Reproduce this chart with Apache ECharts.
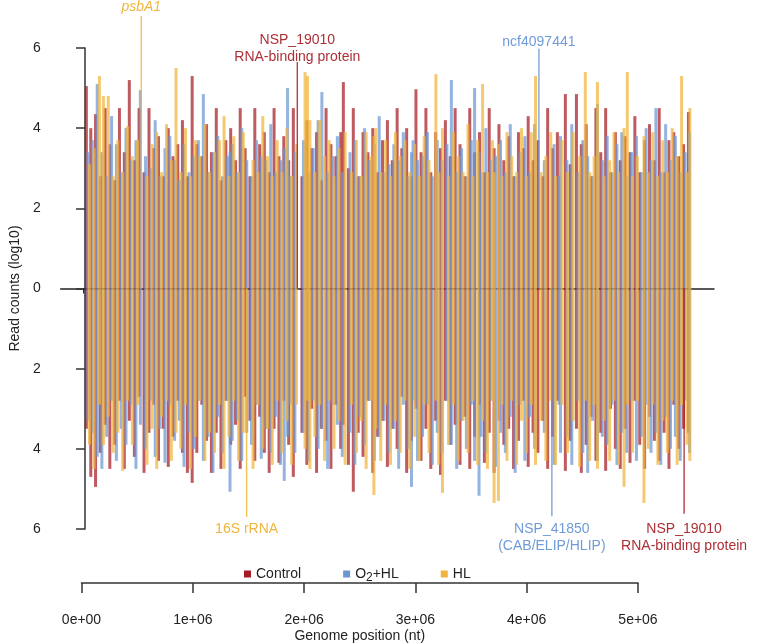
<!DOCTYPE html>
<html>
<head>
<meta charset="utf-8">
<script src="https://cdn.jsdelivr.net/npm/echarts@6/dist/echarts.min.js"></script>
<style>html,body{margin:0;padding:0;background:#fff}#c{width:761px;height:644px}</style>
</head>
<body>
<div id="c"></div>
<script>
// ---- DATA (positions in kb, read counts log10: [position, plus strand, minus strand]) ----
const conditionNames = ['Control', 'O2+HL', 'HL'];

const controlBars = [[12,5.05,3.5],[52,4.0,4.7],[95,4.35,4.95],[138,2.8,4.1],[182,4.5,3.4],[224,3.6,4.5],[268,2.7,3.9],[311,4.5,2.8],[355,3.4,4.5],[400,5.2,3.3],[446,3.2,4.2],[488,4.5,2.7],[533,2.9,4.6],[578,4.5,3.6],[620,3.5,2.9],[664,3.8,4.3],[708,2.8,3.5],[752,4.0,4.45],[795,3.3,3.7],[838,3.6,2.8],[880,4.2,4.1],[925,2.8,4.6],[968,5.3,4.85],[1010,3.6,4.1],[1055,3.3,2.9],[1098,4.1,3.8],[1142,3.4,4.6],[1186,4.5,3.6],[1228,2.7,4.5],[1272,3.7,2.8],[1316,4.0,3.9],[1360,3.2,3.4],[1402,4.5,4.5],[1447,3.5,2.7],[1490,2.8,3.3],[1534,4.5,4.3],[1578,3.6,3.2],[1620,3.9,4.1],[1664,2.9,4.6],[1708,4.5,3.5],[1752,3.3,4.35],[1796,3.8,2.8],[1840,3.2,3.9],[1882,4.5,4.7],[1960,2.8,3.6],[2004,4.2,4.4],[2048,3.5,3.0],[2092,3.9,4.6],[2135,2.7,3.5],[2178,4.5,3.8],[2222,3.6,4.5],[2266,3.3,2.9],[2310,3.9,4.0],[2334,5.15,3.4],[2380,3.0,4.4],[2424,4.5,5.07],[2468,2.8,3.6],[2512,3.9,4.2],[2556,3.4,2.8],[2600,4.0,4.6],[2644,2.9,3.7],[2688,3.7,3.3],[2732,4.2,4.45],[2776,3.2,3.5],[2820,4.5,4.0],[2862,3.5,2.7],[2906,4.0,4.6],[2950,2.8,3.8],[2990,4.97,3.0],[3036,3.4,4.3],[3080,4.5,3.5],[3124,2.9,4.5],[3168,3.9,3.3],[3212,3.5,4.65],[3256,4.2,2.8],[3300,3.3,3.9],[3344,4.5,3.4],[3388,3.6,4.4],[3432,2.8,3.2],[3476,4.5,4.5],[3520,3.4,3.7],[3564,3.9,2.9],[3608,2.9,4.35],[3652,4.5,3.6],[3696,3.5,4.6],[3740,4.1,3.3],[3784,3.2,3.9],[3828,3.8,3.5],[3872,2.8,4.5],[3916,3.9,3.8],[3960,3.5,2.8],[4004,4.3,4.45],[4048,3.2,3.6],[4092,3.7,4.1],[4136,2.8,3.3],[4180,4.5,4.5],[4224,3.5,3.7],[4268,3.9,2.8],[4340,4.85,4.55],[4384,3.1,3.8],[4440,4.85,3.5],[4484,3.6,4.6],[4528,4.1,3.9],[4572,2.8,3.2],[4616,4.5,4.3],[4660,3.4,3.6],[4704,4.5,4.55],[4748,2.9,3.0],[4792,3.9,4.0],[4836,3.2,4.5],[4880,3.8,3.5],[4924,3.4,4.35],[4968,4.3,2.8],[5012,2.9,3.9],[5056,3.7,4.5],[5100,4.1,3.2],[5144,3.2,3.8],[5188,4.5,4.3],[5232,2.9,3.6],[5276,3.7,4.5],[5320,3.9,2.9],[5364,3.3,4.0],[5408,3.6,3.5],[5452,4.4,3.6]];

const o2hlBars = [[26,3.4,3.3],[66,3.7,3.6],[110,5.1,4.2],[152,3.4,4.5],[196,2.8,3.7],[240,4.3,2.8],[283,3.6,4.3],[326,2.9,3.5],[370,4.0,3.9],[414,3.2,2.9],[460,3.7,4.5],[500,4.95,3.4],[547,3.3,4.0],[592,3.0,2.8],[634,4.2,4.2],[678,2.8,3.5],[722,3.5,4.35],[766,3.8,2.9],[809,3.2,3.8],[852,2.7,3.3],[894,3.6,4.45],[939,2.9,3.6],[982,3.3,4.0],[1024,3.7,2.8],[1069,4.85,4.3],[1112,2.9,3.7],[1156,3.4,4.6],[1200,3.8,3.2],[1242,2.8,4.1],[1286,3.3,2.8],[1310,3.4,5.07],[1330,3.6,3.8],[1374,2.9,3.3],[1416,4.0,4.3],[1461,3.2,3.6],[1504,2.8,3.9],[1548,3.7,2.9],[1592,3.3,4.25],[1634,3.2,3.5],[1678,4.1,4.1],[1722,2.9,3.2],[1766,3.2,4.4],[1800,3.5,4.8],[1830,5.0,3.7],[1854,2.8,2.9],[1896,3.4,4.1],[1974,3.7,3.6],[2018,2.9,4.3],[2062,3.5,2.8],[2106,4.2,4.0],[2140,4.9,3.5],[2192,2.9,4.5],[2236,3.3,2.9],[2280,3.8,3.4],[2324,2.9,4.2],[2394,3.4,3.6],[2438,3.7,4.4],[2482,2.8,3.2],[2526,4.0,3.9],[2570,3.2,2.8],[2614,3.6,4.3],[2658,4.3,3.7],[2702,2.9,3.3],[2746,3.1,4.1],[2790,3.6,3.5],[2834,3.2,4.5],[2876,3.9,2.9],[2920,2.8,4.0],[2950,3.4,4.95],[2964,3.7,2.8],[3004,3.2,4.3],[3050,3.3,3.7],[3094,3.9,2.9],[3138,2.8,4.4],[3182,3.7,3.6],[3226,3.2,4.1],[3270,3.6,2.8],[3310,5.2,3.9],[3358,2.9,4.5],[3402,3.5,3.3],[3446,2.8,4.0],[3490,3.7,2.9],[3520,5.0,4.3],[3560,3.4,5.17],[3578,2.9,3.7],[3622,4.0,4.1],[3666,3.2,2.8],[3710,3.3,4.45],[3754,3.7,3.6],[3798,2.9,4.1],[3842,4.1,3.2],[3886,2.8,4.6],[3930,3.4,2.9],[3974,3.8,4.3],[4018,2.9,3.2],[4062,4.1,4.0],[4150,3.2,3.6],[4238,3.6,4.4],[4282,2.8,2.9],[4296,3.8,4.1],[4354,3.2,3.7],[4398,4.1,4.4],[4454,2.9,2.8],[4498,3.7,4.1],[4542,3.3,4.6],[4586,2.8,3.3],[4630,4.6,4.3],[4674,3.2,3.7],[4718,3.8,3.9],[4762,2.9,2.9],[4806,3.6,4.4],[4850,3.9,3.6],[4894,2.8,4.1],[4938,3.4,2.8],[4982,3.8,4.3],[5026,2.9,3.7],[5070,4.0,2.9],[5114,3.2,4.1],[5158,4.5,3.6],[5202,2.9,4.4],[5246,4.1,3.2],[5290,3.2,4.0],[5334,3.8,3.7],[5378,2.9,4.3],[5422,3.4,2.8],[5462,3.9,4.1]];

const hlBars = [[40,3.1,3.9],[82,3.5,4.5],[130,5.3,2.9],[166,4.8,3.9],[210,4.8,3.2],[254,2.8,4.1],[296,3.7,3.6],[340,2.9,4.55],[384,4.05,2.8],[428,3.3,3.9],[474,3.7,2.9],[560,2.8,4.4],[606,3.6,3.5],[648,3.9,4.5],[692,2.9,3.2],[736,4.1,2.8],[780,3.2,4.3],[822,5.5,3.6],[866,2.9,4.0],[908,4.0,2.9],[953,2.8,4.5],[996,3.7,3.7],[1038,3.3,2.8],[1083,4.1,4.3],[1126,2.9,3.6],[1170,3.4,4.1],[1214,3.7,2.9],[1256,4.3,4.5],[1300,2.8,3.7],[1344,3.8,2.8],[1388,2.9,4.3],[1430,3.9,3.6],[1518,3.2,4.5],[1562,2.9,2.9],[1606,4.3,4.0],[1648,3.3,3.5],[1692,2.8,4.4],[1736,3.7,2.8],[1780,2.9,4.1],[1824,4.0,3.3],[1868,2.8,4.4],[1910,3.6,2.9],[1988,5.4,4.0],[2010,5.3,2.8],[2032,4.2,4.5],[2076,2.9,3.7],[2120,4.2,2.9],[2164,3.3,4.3],[2206,3.7,2.8],[2250,2.8,4.0],[2294,3.5,3.3],[2350,3.9,4.4],[2408,2.9,2.9],[2452,3.7,4.1],[2496,2.8,3.3],[2540,3.9,4.5],[2584,3.3,2.8],[2610,3.8,5.15],[2628,4.0,3.5],[2672,2.9,4.3],[2716,3.7,2.9],[2760,2.8,4.4],[2804,3.9,3.3],[2848,3.3,4.1],[2890,3.7,2.8],[2934,2.9,4.5],[2978,3.6,3.7],[3020,2.8,4.3],[3064,3.8,2.9],[3108,3.2,4.1],[3170,5.35,2.8],[3196,2.9,4.4],[3230,4.0,5.1],[3284,2.8,3.9],[3328,3.9,2.9],[3372,3.3,4.3],[3416,2.9,3.3],[3460,4.1,4.1],[3504,2.8,2.8],[3548,3.7,4.4],[3592,5.1,3.3],[3636,2.9,4.5],[3680,3.7,2.8],[3696,2.9,5.35],[3735,3.6,5.3],[3768,2.8,2.9],[3812,3.9,4.3],[3856,3.3,2.8],[3900,2.9,4.4],[3944,4.0,3.3],[3988,2.8,4.1],[4032,3.9,2.9],[4070,5.3,4.4],[4120,2.9,3.3],[4164,3.3,4.3],[4208,3.9,2.8],[4252,2.8,4.4],[4310,3.7,2.9],[4360,2.9,4.1],[4410,3.9,3.3],[4470,3.3,4.45],[4520,5.4,2.8],[4560,2.9,4.3],[4600,3.3,2.9],[4630,5.15,4.5],[4690,2.8,3.3],[4740,3.2,4.3],[4780,3.9,2.8],[4820,2.9,4.4],[4870,4.0,4.95],[4900,5.4,2.9],[4946,2.8,4.1],[4990,3.3,2.8],[5050,3.8,5.35],[5090,2.9,4.0],[5130,3.9,2.9],[5176,2.8,4.4],[5220,3.7,3.3],[5262,2.9,4.1],[5306,4.0,2.8],[5350,3.3,4.4],[5390,5.3,2.9],[5440,2.9,3.9],[5465,4.5,4.3]];

// Highlighted genes
const annotLabels = ['psbA1', 'NSP_19010\nRNA-binding protein', 'ncf4097441', '16S rRNA', 'NSP_41850\n(CAB/ELIP/HLIP)', 'NSP_19010\nRNA-binding protein'];
const annotPosKb = [508, 1918, 4101, 1460, 4218, 5413];
const annotValue = [6.8, 5.65, 5.98, -5.7, -5.68, -5.62];
const annotLabelAt = [7.02, 5.98, 6.15, -6.0, -6.22, -6.22];
const annotCondition = [2, 0, 1, 2, 1, 0];

const xTickLabels = ['0e+00', '1e+06', '2e+06', '3e+06', '4e+06', '5e+06'];
const yTickLabels = ['6', '4', '2', '0', '2', '4', '6'];

// ---- STYLE ----
const FONT = "'Liberation Sans', Arial, Helvetica, sans-serif";
const barColors = ['#a51c24', '#6b95d3', '#f1b43c'];
const textColors = ['#ad2f36', '#6f9bd8', '#f0b53e'];
const BAR_W = 3;

function barRender(params, api) {
  const x = api.value(0);
  const base = api.coord([x, 0]);
  const top = api.coord([x, api.value(1)]);
  const bot = api.coord([x, -api.value(2)]);
  const fill = api.visual('color');
  return {
    type: 'group',
    children: [
      { type: 'rect', shape: { x: base[0] - BAR_W / 2, y: top[1], width: BAR_W, height: base[1] - top[1] }, style: { fill: fill, opacity: 0.72 } },
      { type: 'rect', shape: { x: base[0] - BAR_W / 2, y: base[1], width: BAR_W, height: bot[1] - base[1] }, style: { fill: fill, opacity: 0.72 } }
    ]
  };
}

function annotRender(params, api) {
  const i = params.dataIndex;
  const x = api.value(0);
  const base = api.coord([x, 0]);
  const end = api.coord([x, api.value(1)]);
  const lab = api.coord([x, api.value(2)]);
  const c = annotCondition[i];
  return {
    type: 'group',
    children: [
      { type: 'line', shape: { x1: base[0], y1: base[1], x2: end[0], y2: end[1] }, style: { stroke: barColors[c], lineWidth: 1.4, opacity: 0.85 } },
      { type: 'text', x: lab[0], y: lab[1], style: { text: annotLabels[i], fill: textColors[c], font: (i === 0 ? 'italic ' : '') + '14px ' + FONT, align: 'center', verticalAlign: 'middle', lineHeight: 17 } }
    ]
  };
}

const chart = echarts.init(document.getElementById('c'), null, { renderer: 'canvas' });
const barSets = [controlBars, o2hlBars, hlBars];

const series = barSets.map((d, k) => ({
  type: 'custom',
  name: conditionNames[k],
  xAxisIndex: 0, yAxisIndex: 0,
  renderItem: barRender,
  itemStyle: { color: barColors[k] },
  data: d,
  encode: { x: 0, y: [1] },
  silent: true,
  z: 2
}));
series.push({
  type: 'custom',
  name: 'genes',
  xAxisIndex: 0, yAxisIndex: 0,
  renderItem: annotRender,
  clip: false,
  data: annotPosKb.map((p, i) => [p, annotValue[i], annotLabelAt[i]]),
  encode: { x: 0, y: [1] },
  silent: true,
  z: 3
});

chart.setOption({
  animation: false,
  backgroundColor: '#fff',
  color: barColors,
  textStyle: { fontFamily: FONT },
  legend: {
    data: conditionNames,
    left: 239, top: 562,
    icon: 'rect', itemWidth: 7, itemHeight: 7, itemGap: 42,
    formatter: n => n === 'O2+HL' ? '{a|O}{b|2}{a|+HL}' : n,
    textStyle: { fontSize: 14, color: '#222', fontFamily: FONT,
      rich: {
        a: { fontSize: 14, color: '#222', fontFamily: FONT },
        b: { fontSize: 12, color: '#222', fontFamily: FONT, padding: [7, 0, 0, 0] }
      } },
    selectedMode: false
  },
  grid: [
    { left: 57, right: 47, top: 48, height: 481 },
    { left: 81.5, width: 556.5, top: 582, height: 1 }
  ],
  xAxis: [
    {
      type: 'value', gridIndex: 0, min: -220, max: 5683,
      axisLine: { show: true, onZero: true, lineStyle: { color: '#222', width: 1.5 } },
      axisTick: { show: true, customValues: [-20], length: 5, lineStyle: { color: '#222' } },
      axisLabel: { show: false }, splitLine: { show: false }
    },
    {
      type: 'value', gridIndex: 1, min: 0, max: 5000, interval: 1000, position: 'bottom',
      axisLine: { show: true, lineStyle: { color: '#333', width: 1.5 } },
      axisTick: { show: true, length: 10, lineStyle: { color: '#333', width: 1.5 } },
      axisLabel: { margin: 30, fontSize: 14, color: '#222', fontFamily: FONT,
        formatter: v => xTickLabels[Math.round(v / 1000)] },
      splitLine: { show: false },
      name: 'Genome position (nt)', nameLocation: 'middle', nameGap: 46,
      nameTextStyle: { fontSize: 14, color: '#222', fontFamily: FONT }
    }
  ],
  yAxis: [
    {
      type: 'value', gridIndex: 0, min: -6, max: 6, interval: 2,
      axisLine: { show: true, lineStyle: { color: '#333', width: 1.5 } },
      axisTick: { show: true, length: 9, lineStyle: { color: '#333', width: 1.5 } },
      axisLabel: { margin: 20, fontSize: 14, color: '#222', fontFamily: FONT,
        formatter: v => yTickLabels[Math.round((v + 6) / 2)] },
      splitLine: { show: false },
      name: 'Read counts (log10)', nameLocation: 'middle', nameGap: 37,
      nameTextStyle: { fontSize: 14, color: '#222', fontFamily: FONT }
    },
    { type: 'value', gridIndex: 1, show: false, min: 0, max: 1 }
  ],
  series: series
});
</script>
</body>
</html>
